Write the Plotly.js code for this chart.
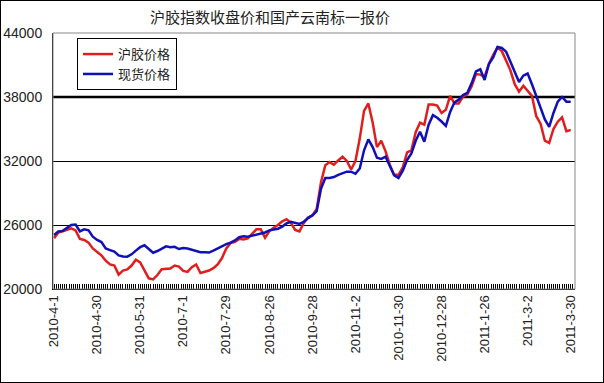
<!DOCTYPE html>
<html>
<head>
<meta charset="utf-8">
<script src="https://cdn.plot.ly/plotly-3.0.1.min.js"></script>
<style>
  html, body { margin: 0; padding: 0; background: #fff; }
  #wrap { width: 604px; height: 383px; box-sizing: border-box; border: 1px solid #000; }
  #chart { width: 602px; height: 381px; }
</style>
</head>
<body>
<div id="wrap"><div id="chart"></div></div>
<script>
// Tick labels (every 20 trading days)
const tickDays = [0, 20, 40, 60, 80, 100, 120, 140, 160, 180, 200, 220, 240];
const tickLabels = ['2010-4-1', '2010-4-30', '2010-5-31', '2010-7-1', '2010-7-29', '2010-8-26',
  '2010-9-28', '2010-11-2', '2010-11-30', '2010-12-28', '2011-1-26', '2011-3-2', '2011-3-30'];

const sampleStep = 2;
const futuresPrice = [ // 沪胶价格
  24750, 25300, 25400, 25550, 25690, 25500, 24700, 24594, 24350, 23800,
  23500, 23150, 22650, 22300, 22200, 21350, 21720, 21840, 22200, 22750,
  22500, 21800, 21000, 20900, 21312, 21850, 21850, 21920, 22200, 22100,
  21700, 21600, 22050, 22300, 21500, 21600, 21730, 21950, 22300, 22900,
  23800, 24300, 24420, 24700, 24650, 24750, 25200, 25600, 25600, 24800,
  25400, 25750, 26000, 26350, 26550, 26200, 25531, 25400, 26200, 26700,
  26900, 27500, 30000, 31600, 31900, 31650, 32050, 32400, 32000, 31200,
  32000, 34100, 36700, 37400, 35600, 33300, 33900, 32900, 31625, 30700,
  30700, 31400, 32800, 33000, 34700, 35600, 35400, 37300, 37300, 37200,
  36500, 36800, 38100, 37400, 37400, 38031, 38250, 39000, 40150, 40100,
  39900, 41100, 41950, 42650, 42300, 41350, 40500, 39200, 38500, 39050,
  38600, 38100, 36200, 35500, 33900, 33700, 35000, 35687, 36100, 34800,
  34900
];
const spotPrice = [ // 现货价格
  25062, 25400, 25450, 25700, 26000, 26050, 25400, 25594, 25500, 24900,
  24594, 24400, 23800, 23650, 23500, 23150, 23050, 23031, 23250, 23600,
  23920, 24100, 23750, 23400, 23562, 23800, 24000, 23906, 23950, 23750,
  23850, 23800, 23700, 23600, 23450, 23450, 23420, 23600, 23800, 24050,
  24200, 24350, 24550, 24850, 24950, 24900, 25000, 25050, 25150, 25300,
  25500, 25600, 25650, 25850, 26150, 26300, 26200, 26100, 26300, 26650,
  26900, 27300, 29400, 30400, 30400, 30500, 30700, 30850, 31000, 31000,
  30800, 31300, 33000, 34031, 33300, 32300, 32200, 32400, 31500, 30650,
  30400, 31100, 32100, 32700, 33900, 34750, 33800, 35400, 36300, 36050,
  35700, 35300, 36600, 37500, 37750, 38187, 38400, 39300, 40400, 40600,
  39600, 41100, 41700, 42700, 42600, 42250, 41300, 40400, 39400, 40000,
  40200, 39200, 38100, 37100, 35900, 35200, 36500, 37562, 38000, 37562,
  37562
];
const yTicks = [20000, 26000, 32000, 38000, 44000];
const yTickLabels = ['20000', '26000', '32000', '38000', '44000'];
const emphasisLevel = 38000;

const xFut = futuresPrice.map((_, i) => i * sampleStep);
const xSpot = spotPrice.map((_, i) => i * sampleStep);

const traces = [
  { x: xFut, y: futuresPrice, name: '沪胶价格', type: 'scatter', mode: 'lines',
    line: { color: '#e01e1e', width: 2.5 } },
  { x: xSpot, y: spotPrice, name: '现货价格', type: 'scatter', mode: 'lines',
    line: { color: '#1010b8', width: 2.5 } }
];

const layout = {
  width: 602, height: 381,
  margin: { l: 52, r: 28, t: 32, b: 93 },
  paper_bgcolor: '#fff', plot_bgcolor: '#fff',
  font: { family: 'Liberation Sans, Arial, sans-serif', size: 12, color: '#222' },
  title: { text: '沪胶指数收盘价和国产云南标一报价', x: 0.447, xref: 'container', xanchor: 'center',
    y: 0.955, yref: 'container', yanchor: 'middle',
    font: { family: 'Noto Sans CJK SC, sans-serif', size: 15, color: '#222' } },
  xaxis: {
    range: [-0.5, 242], tickmode: 'array', tickvals: tickDays, ticktext: tickLabels,
    tickangle: -90, ticks: 'inside', ticklen: 5, tickcolor: '#000',
    minor: { tickmode: 'linear', tick0: 0, dtick: 1, ticks: 'inside', ticklen: 5, tickcolor: '#000', tickwidth: 1, showgrid: false },
    showgrid: false, zeroline: false, showline: true, linecolor: '#000', linewidth: 1,
    tickfont: { size: 13, color: '#222' }, fixedrange: true
  },
  yaxis: {
    range: [20000, 44000], tickmode: 'array', tickvals: yTicks, ticktext: yTickLabels,
    showgrid: true, gridcolor: '#000', gridwidth: 1, zeroline: false,
    showline: true, linecolor: '#000', linewidth: 1, ticks: '', ticklabelstandoff: 7,
    tickfont: { size: 14, color: '#222' }, fixedrange: true
  },
  shapes: [
    { type: 'line', xref: 'paper', x0: 0, x1: 1, yref: 'y', y0: emphasisLevel, y1: emphasisLevel,
      line: { color: '#000', width: 2.5 }, layer: 'below' },
    { type: 'rect', xref: 'paper', yref: 'paper', x0: 0, x1: 1, y0: 0, y1: 1,
      line: { color: '#888', width: 1 }, layer: 'above' }
  ],
  showlegend: true,
  legend: {
    x: 0.046, y: 0.98, xanchor: 'left', yanchor: 'top',
    bgcolor: '#fff', bordercolor: '#000', borderwidth: 1,
    font: { family: 'Noto Sans CJK SC, sans-serif', size: 13, color: '#222' },
    itemwidth: 30, tracegroupgap: 0
  }
};

Plotly.newPlot('chart', traces, layout, { displayModeBar: false, staticPlot: true });
</script>
</body>
</html>
